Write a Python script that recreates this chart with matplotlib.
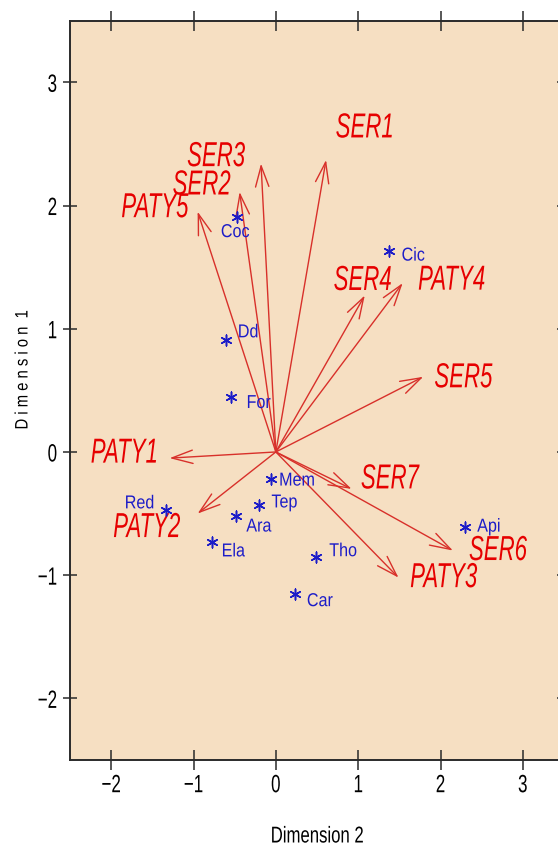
import matplotlib
matplotlib.use("Agg")
import matplotlib.pyplot as plt
from matplotlib.patheffects import AbstractPathEffect
from matplotlib.transforms import Affine2D

# Variable loadings drawn as arrows (Dimension 2 on x, Dimension 1 on y)
var_names = ["SER1", "SER2", "SER3", "SER4", "SER5", "SER6", "SER7",
             "PATY1", "PATY2", "PATY3", "PATY4", "PATY5"]
var_dim2 = [0.61, -0.44, -0.18, 1.08, 1.79, 2.15, 0.92, -1.29, -0.95, 1.49, 1.54, -0.95]
var_dim1 = [2.37, 2.11, 2.34, 1.27, 0.61, -0.80, -0.30, -0.05, -0.50, -1.02, 1.37, 1.95]

# Site / taxon scores drawn as asterisks
obs_names = ["Coc", "Cic", "Dd", "For", "Mem", "Tep", "Ara", "Red", "Ela", "Tho", "Car", "Api"]
obs_dim2 = [-0.47, 1.38, -0.61, -0.54, -0.06, -0.20, -0.48, -1.33, -0.77, 0.49, 0.23, 2.30]
obs_dim1 = [1.91, 1.63, 0.91, 0.45, -0.22, -0.43, -0.52, -0.47, -0.73, -0.85, -1.15, -0.61]

tick_values = [-2, -1, 0, 1, 2, 3]

# label placement (pixel offsets from the mark)
var_label_offset = {
    "SER1": (39, 32), "SER2": (-38, 7), "SER3": (-45, 7), "SER4": (-2, 15),
    "SER5": (40, -1), "SER6": (45, 0), "SER7": (38, 10), "PATY1": (-45, 5),
    "PATY2": (-51, -14), "PATY3": (45, 0), "PATY4": (49, 3), "PATY5": (-43, 4),
}
obs_label_offset = {
    "Coc": (-2, -16, "center"), "Cic": (12, -5, "left"), "Dd": (12, 7, "left"),
    "For": (15, -7, "left"), "Mem": (8, -2, "left"), "Tep": (12, 2, "left"),
    "Ara": (10, -11, "left"), "Red": (-12, 6, "right"), "Ela": (9, -10, "left"),
    "Tho": (13, 5, "left"), "Car": (12, -8, "left"), "Api": (12, 0, "left"),
}


class Condensed(AbstractPathEffect):
    """Squeeze the glyph outlines of a text along / across its baseline."""

    def __init__(self, fx=0.7, fy=1.0, anchor="center"):
        super().__init__()
        self.fx, self.fy, self.anchor = fx, fy, anchor

    def draw_path(self, renderer, gc, tpath, affine, rgbFace=None):
        ext = tpath.get_extents()
        if self.anchor == "left":
            cx = ext.x0
        elif self.anchor == "right":
            cx = ext.x1
        else:
            cx = 0.5 * (ext.x0 + ext.x1)
        cy = 0.5 * (ext.y0 + ext.y1)
        squeeze = (Affine2D().translate(-cx, -cy)
                   .scale(self.fx, self.fy).translate(cx, cy))
        renderer.draw_path(gc, tpath, squeeze + affine, rgbFace)


plt.rcParams["font.family"] = ["Liberation Sans", "DejaVu Sans"]

W, H = 558, 846
fig = plt.figure(figsize=(W / 100, H / 100), dpi=100)
ax = fig.add_axes([70 / W, 86 / H, 494 / W, 739.3 / H])
ax.set_facecolor("#F6DFC2")
ax.set_xlim(-2.5, 3.5)
ax.set_ylim(-2.5, 3.5)

for s in ax.spines.values():
    s.set_linewidth(1.4)
    s.set_color("#2a2a2a")

ax.set_xticks(tick_values)
ax.set_yticks(tick_values)
ax.set_xticklabels([str(v).replace("-", "\u2212") for v in tick_values])
ax.set_yticklabels([str(v).replace("-", "\u2212") for v in tick_values])
ax.tick_params(axis="x", direction="inout", length=14, width=1.1, color="#2a2a2a",
               top=True, labeltop=False, pad=2.5, labelsize=18)
ax.tick_params(axis="y", direction="inout", length=10, width=1.1, color="#2a2a2a",
               right=True, labelright=False, pad=4, labelsize=18)
for lbl in ax.get_xticklabels():
    lbl.set_path_effects([Condensed(0.68, 1.0, "center")])
for lbl in ax.get_yticklabels():
    lbl.set_path_effects([Condensed(0.68, 1.0, "right")])

arrow_color = "#D8302A"
label_red = "#E60000"
blue = "#1C1CC8"

for name, x, y in zip(var_names, var_dim2, var_dim1):
    ax.annotate("", xy=(x, y), xytext=(0, 0),
                arrowprops=dict(arrowstyle="->,head_length=0.75,head_width=0.24",
                                color=arrow_color, lw=1.0, shrinkA=0, shrinkB=0,
                                mutation_scale=20))
    dx, dy = var_label_offset[name]
    ax.annotate(name, xy=(x, y), xytext=(dx, dy), textcoords="offset pixels",
                ha="center", va="center", color=label_red, fontsize=25,
                fontstyle="italic",
                path_effects=[Condensed(0.64, 1.0, "center")])

ax.scatter(obs_dim2, obs_dim1, marker=(6, 2, 0), s=60, color=blue, linewidths=1.1,
           zorder=3)
for name, x, y in zip(obs_names, obs_dim2, obs_dim1):
    dx, dy, ha = obs_label_offset[name]
    ax.annotate(name, xy=(x, y), xytext=(dx, dy), textcoords="offset pixels",
                ha=ha, va="center", color=blue, fontsize=13.5,
                path_effects=[Condensed(0.86, 1.0, ha)])

fig.text(317 / W, 1 - 836 / H, "Dimension 2", ha="center", va="center", fontsize=16.5,
         path_effects=[Condensed(0.73, 1.0, "center")])
fig.text(23 / W, 1 - 370 / H, "D i m e n s i o n  1", ha="center", va="center",
         rotation=90, fontsize=13,
         path_effects=[Condensed(0.82, 1.0, "center")])

fig.savefig("out.png", dpi=100)
